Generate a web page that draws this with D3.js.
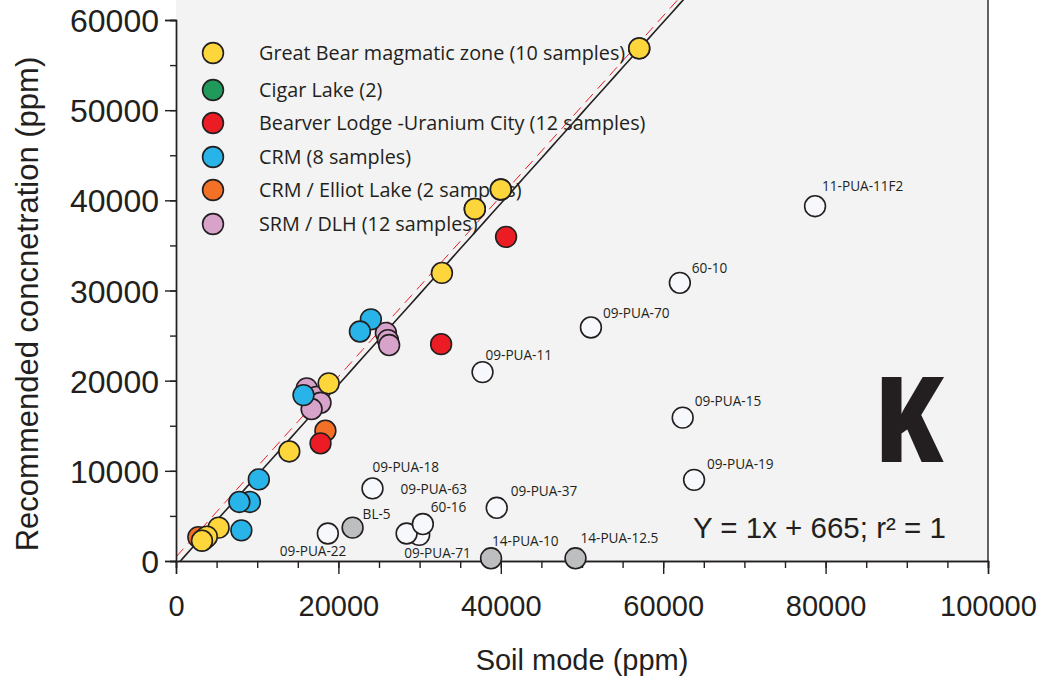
<!DOCTYPE html>
<html>
<head>
<meta charset="utf-8">
<script src="https://cdn.jsdelivr.net/npm/d3@7"></script>
<style>
body { margin: 0; background: #fff; }
</style>
</head>
<body>
<script>
// ---- data (ppm) ----
var greatBear = [[57050, 56850], [40000, 41200], [36800, 39050], [32750, 31950], [18800, 19700],
	[13950, 12150], [5250, 3700], [3500, 2450], [3800, 2700], [3200, 2250]];
var cigarLake = [[3000, 2500], [3300, 2350]];
var beaverLodge = [[40650, 35950], [32650, 24050], [17800, 13050]];
var crm = [[24000, 26800], [22650, 25450], [15700, 18400], [10200, 9050], [9100, 6550], [7800, 6550], [8050, 3400]];
var elliotLake = [[18400, 14450], [2750, 2650]];
var srm = [[16100, 19150], [17300, 18200], [17800, 17550], [16700, 16850], [25850, 25300], [26100, 24500], [26250, 23950]];

// labelled outliers: name, soil mode, recommended
var greySamples = [["BL-5", 21750, 3700], ["14-PUA-10", 38800, 300], ["14-PUA-12.5", 49200, 300]];
var whiteSamples = [["09-PUA-71", 29950, 2900], ["09-PUA-63", 28400, 3050], ["60-16", 30400, 4100],
	["09-PUA-22", 18700, 3050], ["09-PUA-18", 24200, 8050], ["09-PUA-37", 39500, 5900],
	["09-PUA-11", 37750, 20950], ["09-PUA-70", 51100, 25900], ["60-10", 62050, 30850],
	["09-PUA-15", 62400, 15900], ["09-PUA-19", 63800, 9000], ["11-PUA-11F2", 78700, 39350]];

var legendNames = ["Great Bear magmatic zone (10 samples)", "Cigar Lake (2)", "Bearver Lodge -Uranium City (12 samples)",
	"CRM (8 samples)", "CRM / Elliot Lake (2 samples)", "SRM / DLH (12 samples)"];
var legendColors = ["#fdd63c", "#1f9a5b", "#ec1c24", "#28b4e8", "#f27127", "#d8a3cb"];

var xTickValues = [0, 20000, 40000, 60000, 80000, 100000];
var yTickValues = [0, 10000, 20000, 30000, 40000, 50000, 60000];
var fitLine = { slope: 1.005, intercept: -550 };   // black, Y = 1x + 665
var refLine = { slope: 1.0, intercept: 450 };      // red dashed

// label offsets from point centre (px)
var labelOffset = {
	"BL-5": [10, -9], "14-PUA-10": [1, -12], "14-PUA-12.5": [5, -15],
	"09-PUA-71": [-15, 23], "09-PUA-63": [-6, -39], "60-16": [8, -12], "09-PUA-22": [-48, 23],
	"09-PUA-18": [0, -16], "09-PUA-37": [14, -12], "09-PUA-11": [3, -12], "09-PUA-70": [12, -9],
	"60-10": [12, -10], "09-PUA-15": [12, -12], "09-PUA-19": [13, -11], "11-PUA-11F2": [7, -15]
};

var ink = "#231f20";
var sans = "'Liberation Sans', Arial, sans-serif";
var humanist = "'Open Sans', 'Noto Sans', sans-serif";

var svg = d3.select("body").append("svg")
	.attr("width", 1042)
	.attr("height", 676);

var x = d3.scaleLinear().domain([0, 100000]).range([176, 988]);
var y = d3.scaleLinear().domain([0, 60000]).range([561, 20]);

// plot background
svg.append("rect")
	.attr("x", x(0)).attr("y", 0)
	.attr("width", x(100000) - x(0)).attr("height", y(0))
	.attr("fill", "#f2f3f2");

svg.append("clipPath").attr("id", "clip")
	.append("rect")
	.attr("x", x(0)).attr("y", 0)
	.attr("width", x(100000) - x(0)).attr("height", y(0));

// lines
function linePts(l) {
	var xs = d3.range(0, 70001, 1000);
	return xs.map(function (v) { return [x(v), y(l.slope * v + l.intercept)]; });
}
var gLines = svg.append("g").attr("clip-path", "url(#clip)");
gLines.append("path")
	.attr("d", d3.line()(linePts(refLine)))
	.attr("fill", "none")
	.attr("stroke", "#ec1c24")
	.attr("stroke-width", 1)
	.attr("stroke-dasharray", "11,7");
gLines.append("path")
	.attr("d", d3.line()(linePts(fitLine)))
	.attr("fill", "none")
	.attr("stroke", ink)
	.attr("stroke-width", 1.6);

// axes
var xMajor = svg.append("g").attr("transform", "translate(0," + y(0) + ")")
	.call(d3.axisBottom(x).tickValues(xTickValues).tickSize(13).tickPadding(21).tickFormat(d3.format("d")));
var xMinor = svg.append("g").attr("transform", "translate(0," + y(0) + ")")
	.call(d3.axisBottom(x).tickValues(d3.range(0, 100001, 5000)).tickSize(7).tickFormat(""));
var yMajor = svg.append("g").attr("transform", "translate(" + x(0) + ",0)")
	.call(d3.axisLeft(y).tickValues(yTickValues).tickSize(11).tickPadding(6).tickFormat(d3.format("d")));
var yMinor = svg.append("g").attr("transform", "translate(" + x(0) + ",0)")
	.call(d3.axisLeft(y).tickValues(d3.range(0, 60001, 5000)).tickSize(6).tickFormat(""));

[xMajor, xMinor, yMajor, yMinor].forEach(function (g) {
	g.selectAll("path, line").attr("stroke", ink).attr("stroke-width", 1.4);
	g.selectAll("text").attr("fill", ink).style("font-family", sans);
});
xMajor.selectAll("text").style("font-size", "29px");
yMajor.selectAll("text").style("font-size", "32px").attr("dy", "0.36em");

// right border
svg.append("line")
	.attr("x1", x(100000)).attr("x2", x(100000))
	.attr("y1", 0).attr("y2", y(0))
	.attr("stroke", ink).attr("stroke-width", 1.4);

// axis titles
svg.append("text")
	.attr("x", 582).attr("y", 670)
	.attr("text-anchor", "middle")
	.style("font-family", sans).style("font-size", "29px").attr("fill", ink)
	.text("Soil mode (ppm)");
svg.append("text")
	.attr("transform", "translate(38," + 304 + ") rotate(-90)")
	.attr("text-anchor", "middle")
	.style("font-family", sans).style("font-size", "31px").attr("fill", ink)
	.text("Recommended concnetration (ppm)");

// points
var R = 10.4;
function drawSeries(data, color) {
	svg.append("g").selectAll("circle")
		.data(data)
		.join("circle")
		.attr("cx", function (d) { return x(d[0]); })
		.attr("cy", function (d) { return y(d[1]); })
		.attr("r", R)
		.attr("fill", color)
		.attr("stroke", ink)
		.attr("stroke-width", 1.6);
}
drawSeries(cigarLake, legendColors[1]);
drawSeries(elliotLake, legendColors[4]);
drawSeries(srm, legendColors[5]);
drawSeries(crm, legendColors[3]);
drawSeries(beaverLodge, legendColors[2]);
drawSeries(greatBear, legendColors[0]);

function drawLabelled(data, color) {
	var g = svg.append("g");
	g.selectAll("circle")
		.data(data)
		.join("circle")
		.attr("cx", function (d) { return x(d[1]); })
		.attr("cy", function (d) { return y(d[2]); })
		.attr("r", R)
		.attr("fill", color)
		.attr("stroke", ink)
		.attr("stroke-width", 1.6);
	g.selectAll("text")
		.data(data)
		.join("text")
		.attr("x", function (d) { return x(d[1]) + labelOffset[d[0]][0]; })
		.attr("y", function (d) { return y(d[2]) + labelOffset[d[0]][1]; })
		.style("font-family", humanist)
		.style("font-size", "13.6px")
		.attr("fill", ink)
		.text(function (d) { return d[0]; });
}
drawLabelled(greySamples, "#bcbec0");
drawLabelled(whiteSamples, "#f6f8fb");

// legend
var legendY = [53, 90, 123, 157, 190, 224];
var legend = svg.append("g").selectAll("g")
	.data(legendNames)
	.join("g")
	.attr("transform", function (d, i) { return "translate(213," + legendY[i] + ")"; });
legend.append("circle")
	.attr("r", R)
	.attr("fill", function (d, i) { return legendColors[i]; })
	.attr("stroke", ink)
	.attr("stroke-width", 1.6);
legend.append("text")
	.attr("x", 46)
	.attr("y", 7)
	.style("font-family", humanist)
	.style("font-size", "19.8px")
	.attr("fill", ink)
	.text(function (d) { return d; });

// redraw points that sit over the legend text
svg.append("g").selectAll("circle")
	.data([greatBear[0], greatBear[1], greatBear[2]])
	.join("circle")
	.attr("cx", function (d) { return x(d[0]); })
	.attr("cy", function (d) { return y(d[1]); })
	.attr("r", R)
	.attr("fill", legendColors[0])
	.attr("stroke", ink)
	.attr("stroke-width", 1.6);

// panel letter and equation
svg.append("text")
	.attr("transform", "translate(874,462) scale(0.86,1)")
	.style("font-family", humanist).style("font-weight", 800).style("font-size", "118px")
	.attr("fill", ink)
	.text("K");
svg.append("text")
	.attr("x", 693).attr("y", 538)
	.style("font-family", sans).style("font-size", "29.5px")
	.attr("fill", ink)
	.text("Y = 1x + 665; r² = 1");
</script>
</body>
</html>
